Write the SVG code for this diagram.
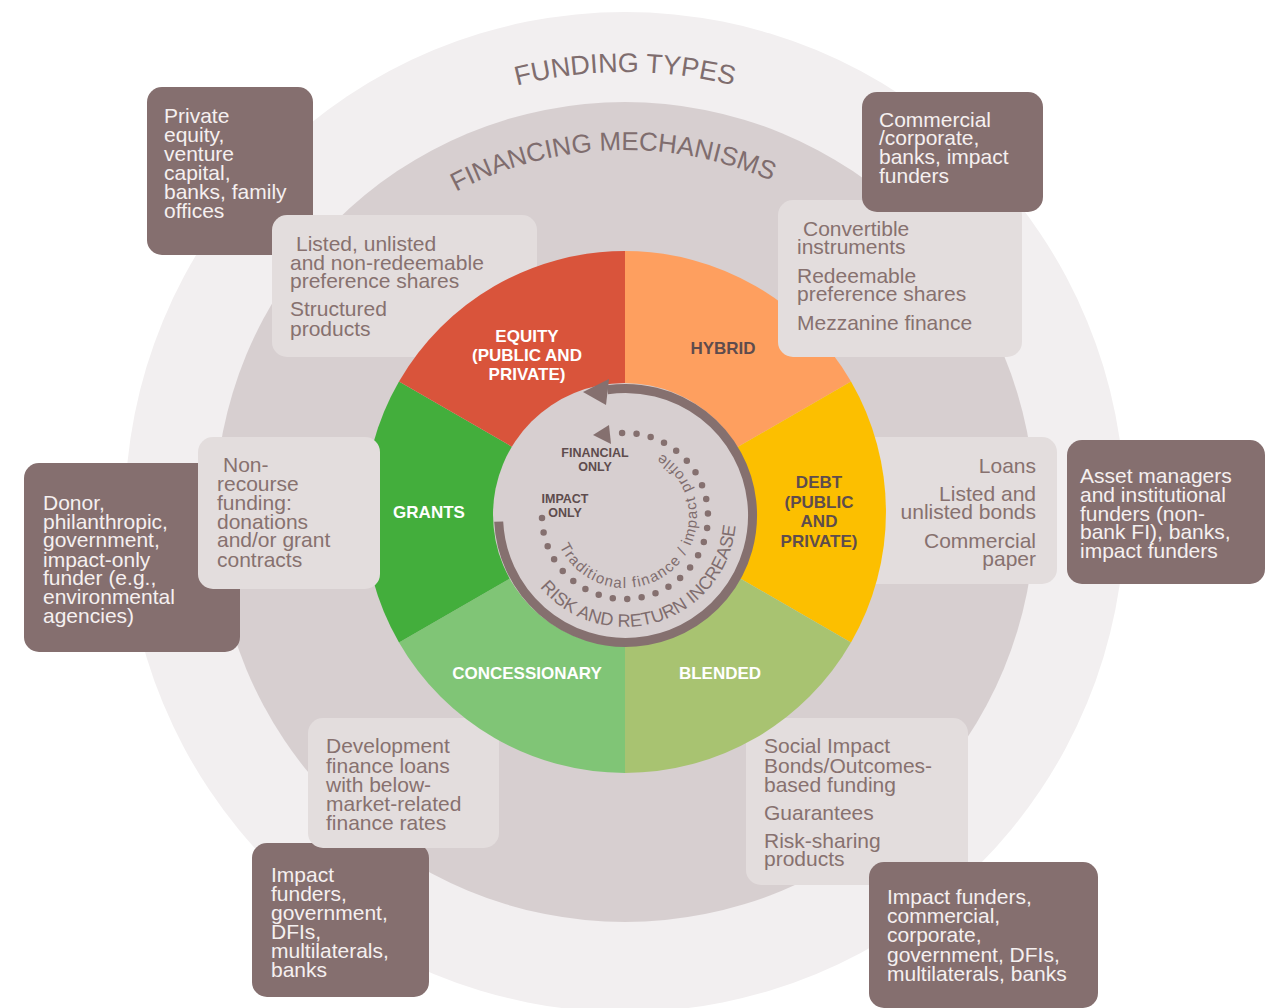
<svg xmlns="http://www.w3.org/2000/svg" width="1280" height="1008" viewBox="0 0 1280 1008">
<style>
.t{font-family:"Liberation Sans",Arial,sans-serif;font-size:21px;fill:#87716f}
.w{font-family:"Liberation Sans",Arial,sans-serif;font-size:21px;fill:#f5f0f0}
.lb{font-family:"Liberation Sans",Arial,sans-serif;font-size:17px;font-weight:bold;text-anchor:middle}
.wl{fill:#ffffff}
.dl{fill:#5e4c4d}
.sm{font-family:"Liberation Sans",Arial,sans-serif;font-size:12.5px;font-weight:bold;text-anchor:middle;fill:#5e4c4d}
.curve{font-family:"Liberation Sans",Arial,sans-serif;fill:#7f6d6e}
.lbox{fill:#e3dddd}
.dbox{fill:#856f6f}
.r{text-anchor:end}
</style>
<defs>
<path id="pFund" d="M185,512 A440,440 0 0 1 1065,512"/>
<path id="pMech" d="M263,512 A362,362 0 0 1 987,512"/>
<path id="pRisk" d="M540,587.3 A111,111 0 0 0 734.3,496.7"/>
<path id="pTrad" d="M559.75,546.43 A72,72 0 1 0 649.6,448.3"/>
</defs>
<rect width="1280" height="1008" fill="#ffffff"/>
<g id="rings">
<circle cx="625" cy="512" r="500" fill="#f2eff0"/>
<circle cx="625" cy="512" r="410" fill="#d7cfd0"/>
<text class="curve" font-size="27"><textPath href="#pFund" startOffset="50%" text-anchor="middle">FUNDING TYPES</textPath></text>
<text class="curve" font-size="26"><textPath href="#pMech" startOffset="556" text-anchor="middle">FINANCING MECHANISMS</textPath></text>
</g>
<g id="funder-equity">
<rect class="dbox" x="147" y="87" width="166" height="168" rx="15"/>
<text class="w" x="164" y="123">Private</text>
<text class="w" x="164" y="142">equity,</text>
<text class="w" x="164" y="161">venture</text>
<text class="w" x="164" y="180">capital,</text>
<text class="w" x="164" y="199">banks, family</text>
<text class="w" x="164" y="218">offices</text>
</g>
<g id="funder-grants">
<rect class="dbox" x="24" y="463" width="216" height="189" rx="15"/>
<text class="w" x="43" y="510">Donor,</text>
<text class="w" x="43" y="529">philanthropic,</text>
<text class="w" x="43" y="547">government,</text>
<text class="w" x="43" y="567">impact-only</text>
<text class="w" x="43" y="585">funder (e.g.,</text>
<text class="w" x="43" y="604">environmental</text>
<text class="w" x="43" y="623">agencies)</text>
</g>
<g id="funder-concessionary">
<rect class="dbox" x="252" y="843" width="177" height="154" rx="15"/>
<text class="w" x="271" y="882">Impact</text>
<text class="w" x="271" y="901">funders,</text>
<text class="w" x="271" y="920">government,</text>
<text class="w" x="271" y="939">DFIs,</text>
<text class="w" x="271" y="958">multilaterals,</text>
<text class="w" x="271" y="977">banks</text>
</g>
<g id="mech-equity">
<rect class="lbox" x="272" y="215" width="265" height="142" rx="15"/>
<text class="t" x="296" y="251">Listed, unlisted</text>
<text class="t" x="290" y="270">and non-redeemable</text>
<text class="t" x="290" y="288">preference shares</text>
<text class="t" x="290" y="316">Structured</text>
<text class="t" x="290" y="336">products</text>
</g>
<g id="mech-debt">
<rect class="lbox" x="860" y="437" width="197" height="147" rx="15"/>
<text class="t r" x="1036" y="473">Loans</text>
<text class="t r" x="1036" y="501">Listed and</text>
<text class="t r" x="1036" y="519">unlisted bonds</text>
<text class="t r" x="1036" y="548">Commercial</text>
<text class="t r" x="1036" y="566">paper</text>
</g>
<g id="mech-concessionary">
<rect class="lbox" x="308" y="718" width="191" height="130" rx="15"/>
<text class="t" x="326" y="753">Development</text>
<text class="t" x="326" y="773">finance loans</text>
<text class="t" x="326" y="792">with below-</text>
<text class="t" x="326" y="811">market-related</text>
<text class="t" x="326" y="830">finance rates</text>
</g>
<g id="mech-blended">
<rect class="lbox" x="746" y="718" width="222" height="167" rx="15"/>
<text class="t" x="764" y="753">Social Impact</text>
<text class="t" x="764" y="773">Bonds/Outcomes-</text>
<text class="t" x="764" y="792">based funding</text>
<text class="t" x="764" y="820">Guarantees</text>
<text class="t" x="764" y="848">Risk-sharing</text>
<text class="t" x="764" y="866">products</text>
</g>
<g id="pie">
<path id="seg-hybrid" d="M625,512 L625,251 A261,261 0 0 1 851,381.5 Z" fill="#fe9f5f"/>
<path id="seg-debt" d="M625,512 L851,381.5 A261,261 0 0 1 851,642.5 Z" fill="#fcbf00"/>
<path id="seg-blended" d="M625,512 L851,642.5 A261,261 0 0 1 625,773 Z" fill="#a8c371"/>
<path id="seg-concessionary" d="M625,512 L625,773 A261,261 0 0 1 399,642.5 Z" fill="#80c576"/>
<path id="seg-grants" d="M625,512 L399,642.5 A261,261 0 0 1 399,381.5 Z" fill="#43ae3c"/>
<path id="seg-equity" d="M625,512 L399,381.5 A261,261 0 0 1 625,251 Z" fill="#d9543b"/>
<text class="lb wl" x="527" y="342">EQUITY</text>
<text class="lb wl" x="527" y="361">(PUBLIC AND</text>
<text class="lb wl" x="527" y="380">PRIVATE)</text>
<text class="lb dl" x="723" y="354">HYBRID</text>
<text class="lb dl" x="819" y="488">DEBT</text>
<text class="lb dl" x="819" y="508">(PUBLIC</text>
<text class="lb dl" x="819" y="527">AND</text>
<text class="lb dl" x="819" y="547">PRIVATE)</text>
<text class="lb wl" x="429" y="518">GRANTS</text>
<text class="lb wl" x="527" y="679">CONCESSIONARY</text>
<text class="lb wl" x="720" y="679">BLENDED</text>
</g>
<g id="mech-grants">
<rect class="lbox" x="198" y="437" width="182" height="152" rx="15"/>
<text class="t" x="223" y="472">Non-</text>
<text class="t" x="217" y="491">recourse</text>
<text class="t" x="217" y="510">funding:</text>
<text class="t" x="217" y="529">donations</text>
<text class="t" x="217" y="547">and/or grant</text>
<text class="t" x="217" y="567">contracts</text>
</g>
<g id="mech-hybrid">
<rect class="lbox" x="778" y="200" width="244" height="157" rx="15"/>
<text class="t" x="803" y="236">Convertible</text>
<text class="t" x="797" y="254">instruments</text>
<text class="t" x="797" y="283">Redeemable</text>
<text class="t" x="797" y="301">preference shares</text>
<text class="t" x="797" y="330">Mezzanine finance</text>
</g>
<g id="core">
<circle cx="624.5" cy="514.5" r="131.5" fill="#d7cfd0"/>
<text class="sm" x="595" y="457">FINANCIAL</text>
<text class="sm" x="595" y="471">ONLY</text>
<text class="sm" x="565" y="503">IMPACT</text>
<text class="sm" x="565" y="517">ONLY</text>
<text class="curve" font-size="18"><textPath href="#pRisk">RISK AND RETURN INCREASE</textPath></text>
<text class="curve" font-size="15" letter-spacing="1.3"><textPath href="#pTrad">Traditional finance / impact profile</textPath></text>
</g>
<g id="connectors">
<path d="M498.7,521.6 A127,127 0 1 0 607.4,389.7" fill="none" stroke="#85706f" stroke-width="9"/>
<polygon points="583,392 609,379 606,405" fill="#85706f"/>
<path d="M542,518 A83,83 0 1 0 622.1,433.1" fill="none" stroke="#85706f" stroke-width="6.5" stroke-linecap="round" pathLength="27" stroke-dasharray="0 1"/>
<polygon points="593,435 609,425 611,444" fill="#85706f"/>
</g>
<g id="funder-hybrid">
<rect class="dbox" x="862" y="92" width="181" height="120" rx="15"/>
<text class="w" x="879" y="127">Commercial</text>
<text class="w" x="879" y="145">/corporate,</text>
<text class="w" x="879" y="164">banks, impact</text>
<text class="w" x="879" y="183">funders</text>
</g>
<g id="funder-debt">
<rect class="dbox" x="1067" y="440" width="198" height="144" rx="15"/>
<text class="w" x="1080" y="483">Asset managers</text>
<text class="w" x="1080" y="502">and institutional</text>
<text class="w" x="1080" y="521">funders (non-</text>
<text class="w" x="1080" y="539">bank FI), banks,</text>
<text class="w" x="1080" y="558">impact funders</text>
</g>
<g id="funder-blended">
<rect class="dbox" x="869" y="862" width="229" height="146" rx="15"/>
<text class="w" x="887" y="904">Impact funders,</text>
<text class="w" x="887" y="923">commercial,</text>
<text class="w" x="887" y="942">corporate,</text>
<text class="w" x="887" y="962">government, DFIs,</text>
<text class="w" x="887" y="981">multilaterals, banks</text>
</g>
</svg>
